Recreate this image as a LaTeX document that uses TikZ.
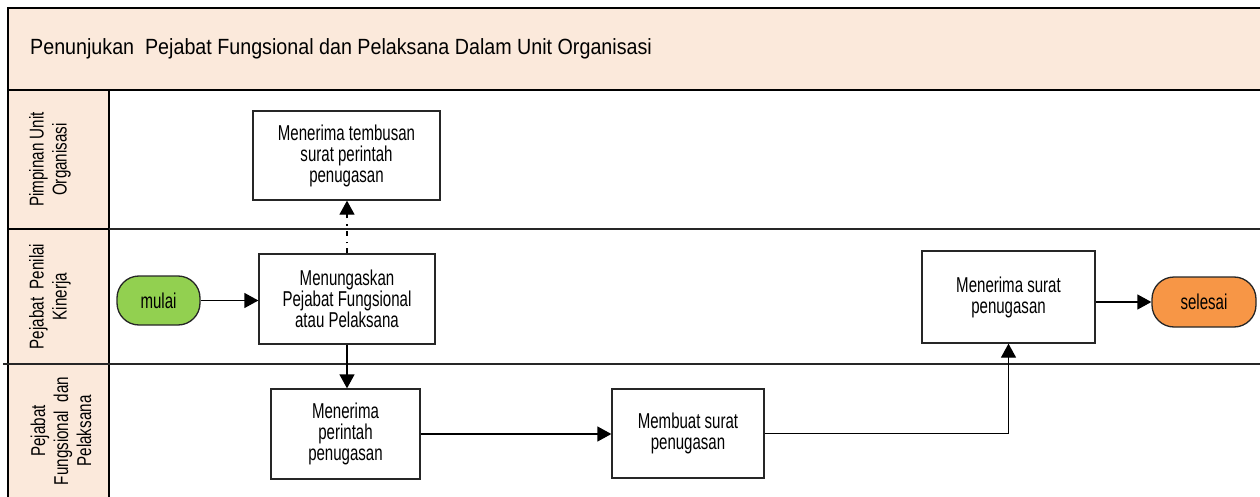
\documentclass[tikz,border=0pt]{standalone}
\usepackage{fontspec}
\setmainfont{Liberation Sans}
\newfontfamily\titlefont[FakeStretch=0.895]{Liberation Sans}
\newfontfamily\boxfont[FakeStretch=0.70]{Liberation Sans}
\newfontfamily\lanefont[FakeStretch=0.76]{Liberation Sans}
\usetikzlibrary{arrows.meta}
\definecolor{peach}{HTML}{FBE9DB}
\definecolor{startgreen}{HTML}{92D050}
\definecolor{endorange}{HTML}{F79646}
\tikzset{
  lanebox/.style={draw=black, fill=peach, line width=1.4pt},
  laneline/.style={draw=black!85, line width=1.4pt},
  proc/.style={draw=black!85, line width=1.3pt, fill=white, rectangle, align=center,
    inner sep=2pt, font=\boxfont\fontsize{21.5}{21}\selectfont},
  termnode/.style={draw=black!85, line width=1.3pt, rounded corners=22pt, align=center,
    font=\boxfont\fontsize{21.5}{21}\selectfont},
  lanelabel/.style={rotate=90, align=center, font=\lanefont\fontsize{20}{23}\selectfont},
  flow/.style={line width=1.3pt, draw=black, -{Triangle[length=14pt,width=15pt]}},
}
\begin{document}
\begin{tikzpicture}[x=1pt,y=-1pt]
\useasboundingbox (0,0) rectangle (1260,497);
% title band
\draw[lanebox, line width=2pt] (8,8) rectangle (1266,90);
\node[anchor=west, inner sep=0pt, font=\titlefont\fontsize{22}{24}\selectfont] (title) at (30,49)
  {Penunjukan\ \ Pejabat Fungsional dan Pelaksana Dalam Unit Organisasi};
% lane headers
\draw[lanebox] (8,90) rectangle (109,229);
\draw[lanebox] (8,229) rectangle (109,364);
\draw[lanebox] (8,364) rectangle (109,503);
\draw[laneline] (109,229) -- (1266,229);
\draw[laneline] (3,364) -- (1266,364);
\node[lanelabel] (l1) at (50,159.5) {Pimpinan Unit\\Organisasi};
\node[lanelabel] (l2) at (50,296.5) {Pejabat\ \ Penilai\\Kinerja};
\node[lanelabel] (l3) at (61,431) {Pejabat\\Fungsional\ \ dan\\Pelaksana};
% nodes
\node[proc, minimum width=187pt, minimum height=89pt] (tembusan) at (346.5,155.5)
  {Menerima tembusan\\surat perintah\\penugasan};
\node[proc, minimum width=176pt, minimum height=90pt] (tugas) at (347,299)
  {Menungaskan\\Pejabat Fungsional\\atau Pelaksana};
\node[termnode, fill=startgreen, minimum width=83pt, minimum height=49pt] (mulai) at (158.5,300.5) {mulai};
\node[proc, minimum width=149pt, minimum height=90pt] (perintah) at (345.5,434)
  {Menerima\\perintah\\penugasan};
\node[proc, minimum width=152pt, minimum height=89pt] (membuat) at (688,433.5)
  {Membuat surat\\penugasan};
\node[proc, minimum width=173pt, minimum height=92pt] (terima) at (1008.5,297)
  {Menerima surat\\penugasan};
\node[termnode, fill=endorange, minimum width=104pt, minimum height=50pt] (selesai) at (1204,302) {selesai};
% connectors
\draw[flow] (mulai.east) -- (tugas.west |- mulai.east);
\draw[flow, dash pattern=on 5pt off 5pt on 1.5pt off 6pt] (tugas.north) -- (tugas.north |- tembusan.south);
\draw[flow] (tugas.south) -- (tugas.south |- perintah.north);
\draw[flow] (perintah.east) -- (membuat.west |- perintah.east);
\draw[flow] (membuat.east) -| (terima.south);
\draw[flow] (terima.east |- selesai.west) -- (selesai.west);
\end{tikzpicture}
\end{document}
